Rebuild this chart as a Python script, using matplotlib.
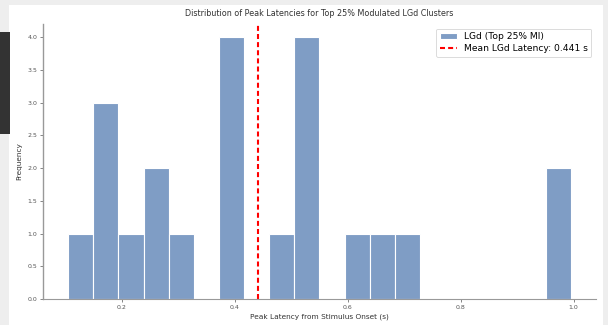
import matplotlib
matplotlib.use("Agg")
import matplotlib.pyplot as plt
import numpy as np
from matplotlib.patches import Rectangle

# Peak latencies (s) of the top-25% modulated LGd clusters
latencies = [
    0.105,
    0.155, 0.165, 0.180,
    0.215,
    0.250, 0.265,
    0.300,
    0.385, 0.395, 0.400, 0.410,
    0.490,
    0.510, 0.515, 0.520, 0.530,
    0.610,
    0.657,
    0.690,
    0.960, 0.995,
]
n_bins = 20
hist_label = "LGd (Top 25% MI)"
title = "Distribution of Peak Latencies for Top 25% Modulated LGd Clusters"
xlabel = "Peak Latency from Stimulus Onset (s)"
ylabel = "Frequency"

mean_lat = np.mean(latencies)

fig = plt.figure(figsize=(6.08, 3.25), dpi=100)
fig.patch.set_facecolor("#eeeeee")
# white canvas and side tab
fig.patches.append(Rectangle((9 / 608, 0), 594 / 608, 320 / 325, transform=fig.transFigure,
                             facecolor="white", edgecolor="none", zorder=-10))
fig.patches.append(Rectangle((0, (325 - 134) / 325), 10 / 608, 102 / 325, transform=fig.transFigure,
                             facecolor="#333333", edgecolor="none", zorder=-9))

ax = fig.add_axes([43 / 608, 26 / 325, 553 / 608, 275 / 325])
ax.patch.set_alpha(0)
ax.hist(latencies, bins=n_bins, color="#7f9dc5", edgecolor="white", linewidth=0.8,
        label=hist_label)
ax.axvline(mean_lat, color="red", linestyle=(0, (2.4, 1.5)), linewidth=1.5,
           label=f"Mean LGd Latency: {mean_lat:.3f} s")

ax.set_yticks(np.arange(0, 4.01, 0.5))
ax.set_xticks([0.2, 0.4, 0.6, 0.8, 1.0])
ax.tick_params(labelsize=4.5, length=2, width=0.5, colors="#555555", pad=2)
for s in ("top", "right"):
    ax.spines[s].set_visible(False)
for s in ("left", "bottom"):
    ax.spines[s].set_color("#999999")
ax.spines["left"].set_linewidth(1.0)
ax.spines["bottom"].set_linewidth(0.8)

ax.set_title(title, fontsize=5.75, color="#333333", pad=5.5)
ax.set_xlabel(xlabel, fontsize=5.3, color="#333333", labelpad=3)
ax.set_ylabel(ylabel, fontsize=5.3, color="#333333", labelpad=4)

leg = ax.legend(loc="upper right", fontsize=6.6, frameon=True, handlelength=1.8,
                borderpad=0.4, labelspacing=0.35, fancybox=True)
leg.get_frame().set_linewidth(0.6)
leg.get_frame().set_edgecolor("#cccccc")

fig.savefig("out.png", dpi=100, facecolor=fig.get_facecolor())
